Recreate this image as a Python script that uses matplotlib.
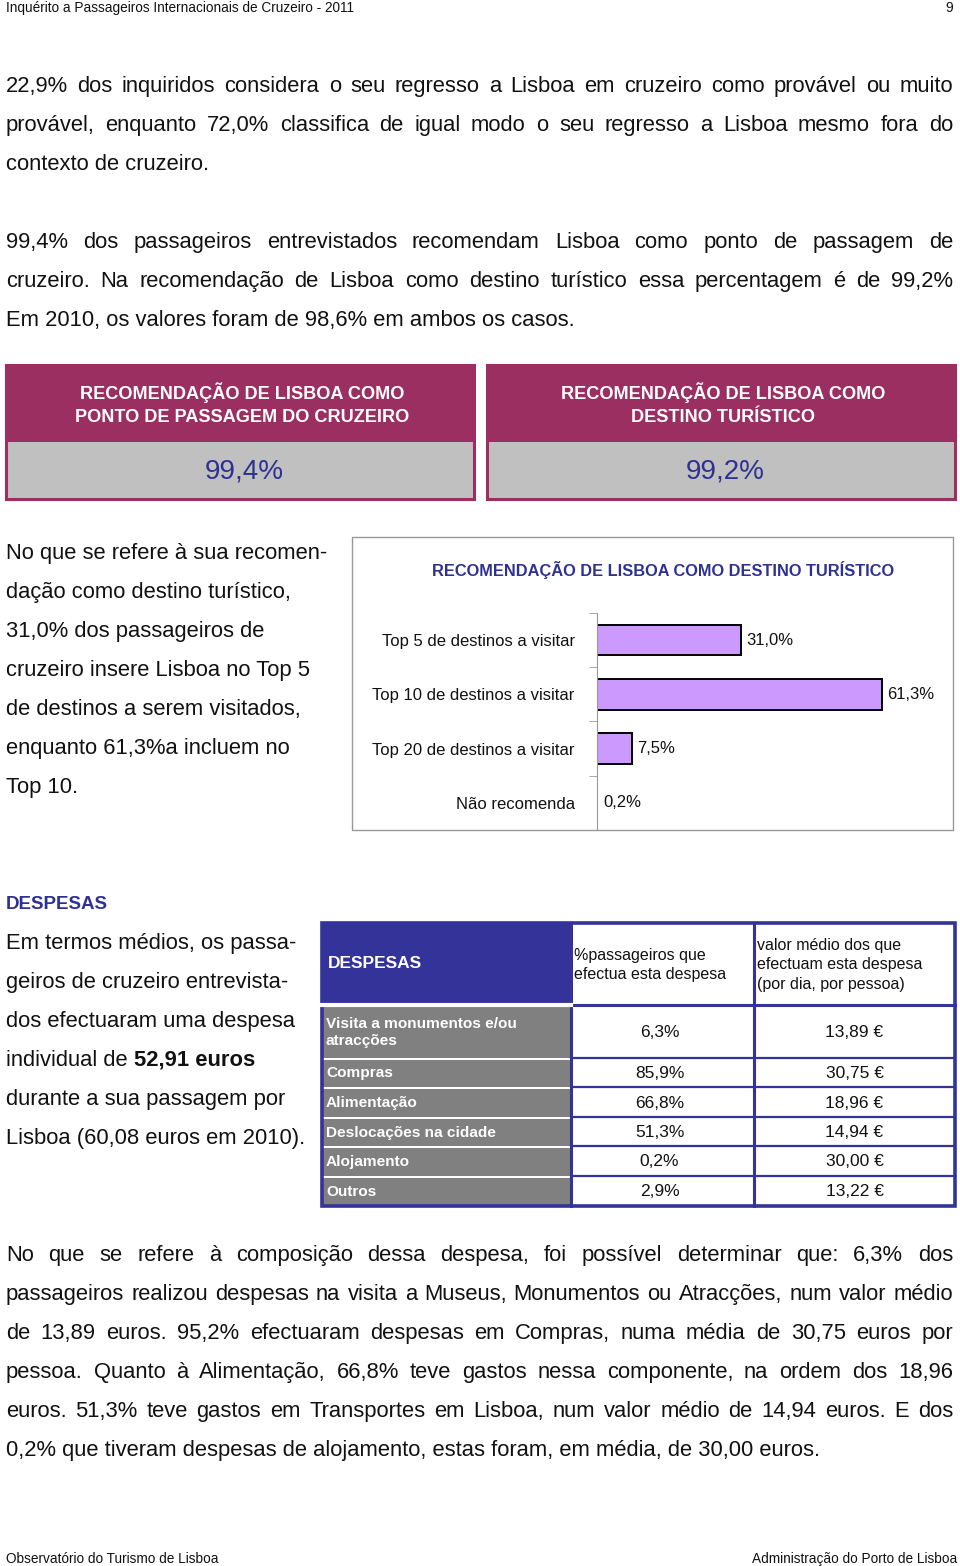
import matplotlib.pyplot as plt
from matplotlib.patches import Rectangle

# ===============================================================
# Data
# ===============================================================
header_left = "Inquérito a Passageiros Internacionais de Cruzeiro - 2011"
page_number = "9"
footer_left = "Observatório do Turismo de Lisboa"
footer_right = "Administração do Porto de Lisboa"

intro_lines = [
    "22,9% dos inquiridos considera o seu regresso a Lisboa em cruzeiro como provável ou muito",
    "provável, enquanto 72,0% classifica de igual modo o seu regresso a Lisboa mesmo fora do",
    "contexto de cruzeiro.",
    "",
    "99,4% dos passageiros entrevistados recomendam Lisboa como ponto de passagem de",
    "cruzeiro. Na recomendação de Lisboa como destino turístico essa percentagem é de 99,2%",
    "Em 2010, os valores foram de 98,6% em ambos os casos.",
]
intro_justify = [True, True, False, False, True, True, False]

box_titles = [
    "RECOMENDAÇÃO DE LISBOA COMO\nPONTO DE PASSAGEM DO CRUZEIRO",
    "RECOMENDAÇÃO DE LISBOA COMO\nDESTINO TURÍSTICO",
]
box_values = ["99,4%", "99,2%"]

side_lines = [
    "No que se refere à sua recomen-",
    "dação como destino turístico,",
    "31,0% dos passageiros de",
    "cruzeiro insere Lisboa no Top 5",
    "de destinos a serem visitados,",
    "enquanto 61,3%a incluem no",
    "Top 10.",
]

chart_title = "RECOMENDAÇÃO DE LISBOA COMO DESTINO TURÍSTICO"
categories = [
    "Top 5 de destinos a visitar",
    "Top 10 de destinos a visitar",
    "Top 20 de destinos a visitar",
    "Não recomenda",
]
shares = [31.0, 61.3, 7.5, 0.2]
share_labels = ["31,0%", "61,3%", "7,5%", "0,2%"]

despesas_lines = [
    "Em termos médios, os passa-",
    "geiros de cruzeiro entrevista-",
    "dos efectuaram uma despesa",
    None,  # line with bold value
    "durante a sua passagem por",
    "Lisboa (60,08 euros em 2010).",
]

table_header = [
    "DESPESAS",
    "%passageiros que\nefectua esta despesa",
    "valor médio dos que\nefectuam esta despesa\n(por dia, por pessoa)",
]
expense_items = [
    "Visita a monumentos e/ou\natracções",
    "Compras",
    "Alimentação",
    "Deslocações na cidade",
    "Alojamento",
    "Outros",
]
expense_pct = ["6,3%", "85,9%", "66,8%", "51,3%", "0,2%", "2,9%"]
expense_avg = ["13,89 €", "30,75 €", "18,96 €", "14,94 €", "30,00 €", "13,22 €"]

outro_lines = [
    "No que se refere à composição dessa despesa, foi possível determinar que: 6,3% dos",
    "passageiros realizou despesas na visita a Museus, Monumentos ou Atracções, num valor médio",
    "de 13,89 euros. 95,2% efectuaram despesas em Compras, numa média de 30,75 euros por",
    "pessoa. Quanto à Alimentação, 66,8% teve gastos nessa componente, na ordem dos 18,96",
    "euros. 51,3% teve gastos em Transportes em Lisboa, num valor médio de 14,94 euros. E dos",
    "0,2% que tiveram despesas de alojamento, estas foram, em média, de 30,00 euros.",
]
outro_justify = [True, True, True, True, True, False]

# ===============================================================
# Style
# ===============================================================
FONT = "Liberation Sans"
TEXT = "#111111"
PURPLE = "#9B2F62"
BOX_GREY = "#C0C0C0"
NAVY = "#2E3192"
TABLE_BLUE = "#333399"
CELL_GREY = "#808080"
BAR = "#CC99FF"
BODY_SIZE = 15.8

W, H = 960, 1566
DPI = 100
fig = plt.figure(figsize=(W / DPI, H / DPI), dpi=DPI)
fig.patch.set_facecolor("white")
ax = fig.add_axes([0, 0, 1, 1])
ax.set_xlim(0, W)
ax.set_ylim(H, 0)
ax.axis("off")
renderer = fig.canvas.get_renderer()


def put_line(text, x0, y, x1=None, size=BODY_SIZE, **kw):
    """Draw one text line centred (cap height) on y; justify to x1 if given."""
    base = y + 0.358 * size * DPI / 72
    opts = dict(fontsize=size, family=FONT, color=TEXT, va="baseline", ha="left")
    opts.update(kw)
    if x1 is None:
        return ax.text(x0, base, text, **opts)
    words = text.split()
    texts = [ax.text(0, base, w, **opts) for w in words]
    widths = [t.get_window_extent(renderer).width for t in texts]
    gap = (x1 - x0 - sum(widths)) / max(len(words) - 1, 1)
    x = x0
    for t, w in zip(texts, widths):
        t.set_x(x)
        x += w + gap


# ===============================================================
# Header / footer
# ===============================================================
put_line(header_left, 6, 7, size=9.8)
put_line(page_number, 953, 7, size=9.8, ha="right")
put_line(footer_left, 6, 1558, size=9.8)
put_line(footer_right, 957, 1558, size=9.8, ha="right")

# ===============================================================
# Intro paragraphs
# ===============================================================
y = 84
for line, just in zip(intro_lines, intro_justify):
    if line:
        put_line(line, 6, y, 953 if just else None)
    y += 39

# ===============================================================
# Recommendation boxes
# ===============================================================
for (bx0, bx1), title, val in zip([(6, 474), (487, 955)], box_titles, box_values):
    ax.add_patch(Rectangle((bx0, 365), bx1 - bx0, 77, facecolor=PURPLE, edgecolor="none"))
    ax.add_patch(Rectangle((bx0, 442), bx1 - bx0, 57, facecolor=BOX_GREY, edgecolor="none"))
    ax.add_patch(Rectangle((bx0, 365), bx1 - bx0, 134, facecolor="none",
                           edgecolor=PURPLE, lw=2.2))
    cx = (bx0 + bx1) / 2
    ax.text(cx + 2, 404, title, ha="center", va="center", family=FONT, fontsize=13.1,
            fontweight="bold", color="white", linespacing=1.5)
    ax.text(cx + 4, 471, val, ha="center", va="center", family=FONT, fontsize=20, color=NAVY)

# ===============================================================
# Side paragraph + chart
# ===============================================================
y = 551
for line in side_lines:
    put_line(line, 6, y)
    y += 39

ax.add_patch(Rectangle((352, 537), 601, 293, facecolor="white", edgecolor="#999999", lw=1))
ax.text(663, 570, chart_title, ha="center", va="center", family=FONT,
        fontsize=11.8, fontweight="bold", color=NAVY)

bx0, by0, bw, bh = 597, 613, 350, 217
ax_bar = fig.add_axes([bx0 / W, 1 - (by0 + bh) / H, bw / W, bh / H])
ax_bar.set_facecolor("none")
pos = list(range(len(categories)))
edges = ["black" if v >= 1 else "none" for v in shares]
ax_bar.barh(pos, shares, height=0.56, color=BAR, edgecolor=edges, lw=1.4)
for p, v, lab in zip(pos, shares, share_labels):
    ax_bar.text(v + 1.2, p, lab, va="center", ha="left", family=FONT,
                fontsize=12, color=TEXT)
ax_bar.set_xlim(0, bw / 4.65)
ax_bar.set_ylim(len(categories) - 0.5, -0.5)
ax_bar.set_yticks(pos)
ax_bar.set_yticklabels(categories, family=FONT, fontsize=12, color=TEXT)
ax_bar.set_yticks([p - 0.5 for p in pos], minor=True)
ax_bar.tick_params(axis="y", which="major", length=0, pad=16)
ax_bar.tick_params(axis="y", which="minor", length=6, color="#999999", direction="out")
ax_bar.set_xticks([])
for s in ("top", "right", "bottom"):
    ax_bar.spines[s].set_visible(False)
ax_bar.spines["left"].set_color("#999999")

# ===============================================================
# Despesas
# ===============================================================
put_line("DESPESAS", 6, 902, size=13.5, fontweight="bold", color=NAVY)
y = 941
for line in despesas_lines:
    if line is None:
        t = put_line("individual de ", 6, y)
        wdt = t.get_window_extent(renderer).width
        put_line("52,91 euros", 6 + wdt, y, fontweight="bold")
    else:
        put_line(line, 6, y)
    y += 39

# table
cols = [322, 571, 754, 955]
rows = [923, 1005, 1058, 1087, 1117, 1146, 1176, 1206]
ax.add_patch(Rectangle((cols[0], rows[0]), cols[1] - cols[0], rows[1] - rows[0],
                       facecolor=TABLE_BLUE, edgecolor="none"))
for i in range(len(expense_items)):
    ax.add_patch(Rectangle((cols[0], rows[i + 1] + 1.5), cols[1] - cols[0],
                           rows[i + 2] - rows[i + 1] - 1.5,
                           facecolor=CELL_GREY, edgecolor="none"))
# grid lines
for c in cols[1:-1]:
    ax.plot([c, c], [rows[0], rows[-1]], color=TABLE_BLUE, lw=2.2)
for r in rows[1:-1]:
    ax.plot([cols[1], cols[-1]], [r, r], color=TABLE_BLUE, lw=2.2 if r == rows[1] else 1.6)
ax.plot([cols[0], cols[1]], [rows[1], rows[1]], color="white", lw=3)
ax.add_patch(Rectangle((cols[0], rows[0]), cols[-1] - cols[0], rows[-1] - rows[0],
                       facecolor="none", edgecolor=TABLE_BLUE, lw=2.6))

ax.text(cols[0] + 6, 964, table_header[0], ha="left", va="center", family=FONT,
        fontsize=12.5, fontweight="bold", color="white")
ax.text(cols[1] + 3, 965, table_header[1], ha="left", va="center", family=FONT,
        fontsize=11.5, color=TEXT, linespacing=1.4)
ax.text(cols[2] + 3, 965, table_header[2], ha="left", va="center", family=FONT,
        fontsize=11.5, color=TEXT, linespacing=1.35)

for i, (item, pct, avg) in enumerate(zip(expense_items, expense_pct, expense_avg)):
    cy = (rows[i + 1] + rows[i + 2]) / 2 + 1
    ax.text(cols[0] + 4, cy, item, ha="left", va="center", family=FONT, fontsize=11.1,
            fontweight="bold", color="white", linespacing=1.35)
    ax.text((cols[1] + cols[2]) / 2 - 3, cy, pct, ha="center", va="center", family=FONT,
            fontsize=12.5, color=TEXT)
    ax.text((cols[2] + cols[3]) / 2, cy, avg, ha="center", va="center", family=FONT,
            fontsize=12.5, color=TEXT)

# ===============================================================
# Closing paragraph
# ===============================================================
y = 1253
for line, just in zip(outro_lines, outro_justify):
    put_line(line, 6, y, 953 if just else None)
    y += 39

fig.savefig("out.png", dpi=DPI, facecolor="white")
